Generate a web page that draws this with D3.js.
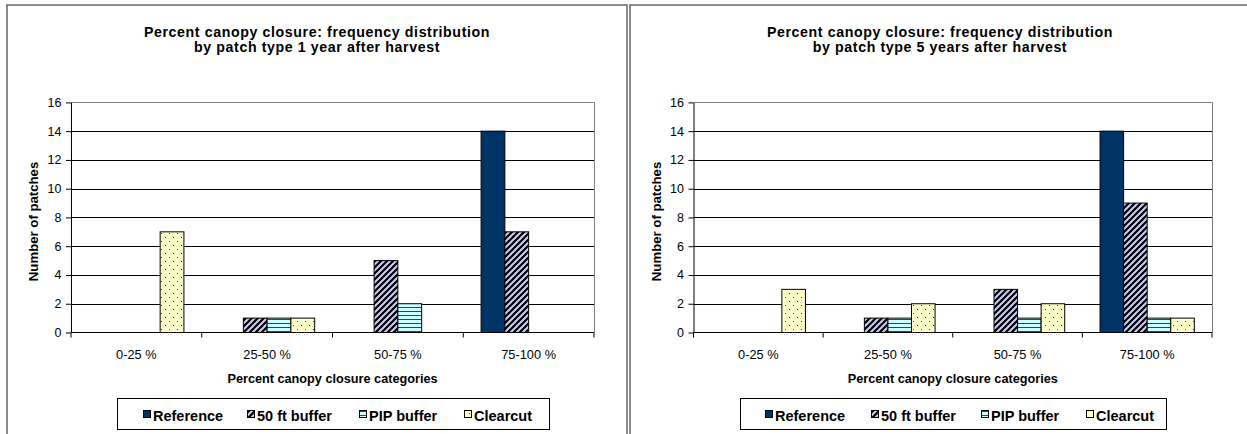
<!DOCTYPE html>
<html>
<head>
<meta charset="utf-8">
<script src="https://cdn.jsdelivr.net/npm/d3@7"></script>
<style>
  html, body { margin: 0; padding: 0; background: #fff; }
  svg { display: block; font-family: Arial, "Liberation Sans", sans-serif; }
</style>
</head>
<body>
<svg id="chart" width="1247" height="434"></svg>
<script>
// Canopy closure categories and series
const categories = ["0-25 %", "25-50 %", "50-75 %", "75-100 %"];
const seriesNames = ["Reference", "50 ft buffer", "PIP buffer", "Clearcut"];

// Patch counts, 1 year after harvest
const year1Reference = [0, 0, 0, 14];
const year1Buffer50 = [0, 1, 5, 7];
const year1PIP = [0, 1, 2, 0];
const year1Clearcut = [7, 1, 0, 0];

// Patch counts, 5 years after harvest
const year5Reference = [0, 0, 0, 14];
const year5Buffer50 = [0, 1, 3, 9];
const year5PIP = [0, 1, 1, 1];
const year5Clearcut = [3, 2, 2, 1];

const yTicks = [0, 2, 4, 6, 8, 10, 12, 14, 16];

const titles1 = ["Percent canopy closure: frequency distribution", "by patch type 1 year after harvest"];
const titles5 = ["Percent canopy closure: frequency distribution", "by patch type 5 years after harvest"];
const xTitle = "Percent canopy closure categories";
const yTitle = "Number of patches";

const svg = d3.select("#chart");
const defs = svg.append("defs");

// Fill patterns for the series
function makePatterns() {
  // diagonal stripes on lavender
  const p1 = defs.append("pattern").attr("id", "pat-diag")
    .attr("patternUnits", "userSpaceOnUse").attr("width", 6).attr("height", 6);
  p1.append("rect").attr("width", 6).attr("height", 6).attr("fill", "#ccccff");
  p1.append("path").attr("d", "M-1,7 L7,-1 M-4,4 L4,-4 M2,10 L10,2")
    .attr("stroke", "#000").attr("stroke-width", 2.2);

  // horizontal lines on light cyan
  const p2 = defs.append("pattern").attr("id", "pat-horz")
    .attr("patternUnits", "userSpaceOnUse").attr("width", 4).attr("height", 4);
  p2.append("rect").attr("width", 4).attr("height", 4).attr("fill", "#ccffff");
  p2.append("rect").attr("y", 3).attr("width", 4).attr("height", 1).attr("fill", "#2a4a4a");

  // sparse dots on pale yellow
  const p3 = defs.append("pattern").attr("id", "pat-dots")
    .attr("patternUnits", "userSpaceOnUse").attr("width", 8).attr("height", 8);
  p3.append("rect").attr("width", 8).attr("height", 8).attr("fill", "#ffffcc");
  p3.append("rect").attr("x", 1).attr("y", 1).attr("width", 1).attr("height", 1).attr("fill", "#333");
  p3.append("rect").attr("x", 5).attr("y", 5).attr("width", 1).attr("height", 1).attr("fill", "#333");
}
makePatterns();

const fills = {
  "Reference": "#003366",
  "50 ft buffer": "url(#pat-diag)",
  "PIP buffer": "url(#pat-horz)",
  "Clearcut": "url(#pat-dots)"
};

function drawPanel(cfg) {
  const g = svg.append("g");

  // outer frame
  g.append("rect")
    .attr("x", cfg.frame[0]).attr("y", cfg.frame[1])
    .attr("width", cfg.frame[2]).attr("height", cfg.frame[3])
    .attr("fill", "#fff").attr("stroke", "#666").attr("stroke-width", 1.5);

  const x = d3.scaleBand().domain(categories)
    .range([cfg.plot.left, cfg.plot.right]).paddingInner(0).paddingOuter(0);
  const xs = d3.scaleBand().domain(seriesNames)
    .range([0, x.bandwidth()]).paddingInner(0).paddingOuter(0.75);
  const y = d3.scaleLinear().domain([0, 16]).range([cfg.plot.bottom, cfg.plot.top]);
  const plotCx = (cfg.plot.left + cfg.plot.right) / 2;

  // gridlines
  g.append("g").selectAll("line").data(yTicks.filter(t => t > 0 && t < 16)).join("line")
    .attr("x1", cfg.plot.left).attr("x2", cfg.plot.right)
    .attr("y1", d => Math.round(y(d)) + 0.5).attr("y2", d => Math.round(y(d)) + 0.5)
    .attr("stroke", "#000").attr("stroke-width", 1);

  // plot area top and right border
  g.append("path")
    .attr("d", `M${cfg.plot.left},${Math.round(y(16)) + 0.5} H${cfg.plot.right + 0.5} V${cfg.plot.bottom}`)
    .attr("fill", "none").attr("stroke", "#808080").attr("stroke-width", 1);

  // bars
  const rows = [];
  seriesNames.forEach((s, si) => {
    cfg.values[si].forEach((v, ci) => rows.push({ s, c: categories[ci], v }));
  });
  g.append("g").selectAll("rect").data(rows.filter(d => d.v > 0)).join("rect")
    .attr("x", d => x(d.c) + xs(d.s))
    .attr("y", d => y(d.v))
    .attr("width", xs.bandwidth())
    .attr("height", d => y(0) - y(d.v))
    .attr("fill", d => fills[d.s])
    .attr("stroke", "#000").attr("stroke-width", 1);

  // y axis
  const yAxis = d3.axisLeft(y).tickValues(yTicks).tickSize(5).tickPadding(4.5).tickSizeOuter(0);
  const ya = g.append("g").attr("transform", `translate(${cfg.plot.left},0)`).call(yAxis);
  ya.select(".domain").attr("stroke", "#000");
  ya.selectAll(".tick line").attr("stroke", "#000");
  ya.selectAll("text").attr("font-size", 12.5).attr("fill", "#000")
    .attr("font-family", "Arial, 'Liberation Sans', sans-serif");

  // x axis: ticks between categories
  const xa = g.append("g").attr("transform", `translate(0,${cfg.plot.bottom})`);
  xa.append("line").attr("x1", cfg.plot.left).attr("x2", cfg.plot.right)
    .attr("stroke", "#000");
  const bounds = categories.map(c => x(c)).concat([cfg.plot.right]);
  xa.selectAll("line.tk").data(bounds).join("line").attr("class", "tk")
    .attr("x1", d => d).attr("x2", d => d).attr("y1", 0).attr("y2", 5)
    .attr("stroke", "#000");
  xa.selectAll("text").data(categories).join("text")
    .attr("x", d => x(d) + x.bandwidth() / 2).attr("y", 26.5)
    .attr("text-anchor", "middle").attr("font-size", 12.8).text(d => d);

  // axis titles
  g.append("text")
    .attr("x", plotCx).attr("y", cfg.plot.bottom + 50)
    .attr("text-anchor", "middle").attr("font-size", 12.7).attr("font-weight", "bold")
    .text(xTitle);
  g.append("text")
    .attr("transform", `translate(${cfg.plot.left - 33},${(cfg.plot.top + cfg.plot.bottom) / 2 + 4}) rotate(-90)`)
    .attr("text-anchor", "middle").attr("font-size", 13.2).attr("font-weight", "bold")
    .text(yTitle);

  // chart title, two lines
  cfg.title.forEach((line, i) => {
    g.append("text").attr("text-anchor", "middle")
      .attr("x", cfg.titleX).attr("y", 36.5 + i * 15)
      .attr("font-size", 14.2).attr("font-weight", "bold")
      .attr("letter-spacing", 0.6)
      .text(line);
  });

  // legend
  const lg = g.append("g");
  const lw = cfg.legend.w;
  const lx = Math.round(plotCx - lw / 2);
  lg.append("rect")
    .attr("x", lx + 0.5).attr("y", 398.5)
    .attr("width", lw).attr("height", 31)
    .attr("fill", "#fff").attr("stroke", "#000").attr("stroke-width", 1);
  seriesNames.forEach((s, i) => {
    const ix = lx + cfg.legend.offsets[i];
    lg.append("rect").attr("x", ix + 0.5).attr("y", 410.5).attr("width", 7).attr("height", 7)
      .attr("fill", fills[s]).attr("stroke", "#000").attr("stroke-width", 1);
    lg.append("text").attr("x", ix + 10).attr("y", 421)
      .attr("font-size", 14.5).attr("font-weight", "bold").text(s);
  });
}

drawPanel({
  frame: [7, 5, 620, 440],
  plot: { left: 71, right: 594, top: 102.4, bottom: 332.5 },
  titleX: 317,
  title: titles1,
  values: [year1Reference, year1Buffer50, year1PIP, year1Clearcut],
  legend: { w: 432, offsets: [26, 130, 242, 347] }
});

drawPanel({
  frame: [630, 5, 630, 440],
  plot: { left: 693.5, right: 1212, top: 102.4, bottom: 332.5 },
  titleX: 940,
  title: titles5,
  values: [year5Reference, year5Buffer50, year5PIP, year5Clearcut],
  legend: { w: 426, offsets: [25, 131, 241, 346] }
});
</script>
</body>
</html>
